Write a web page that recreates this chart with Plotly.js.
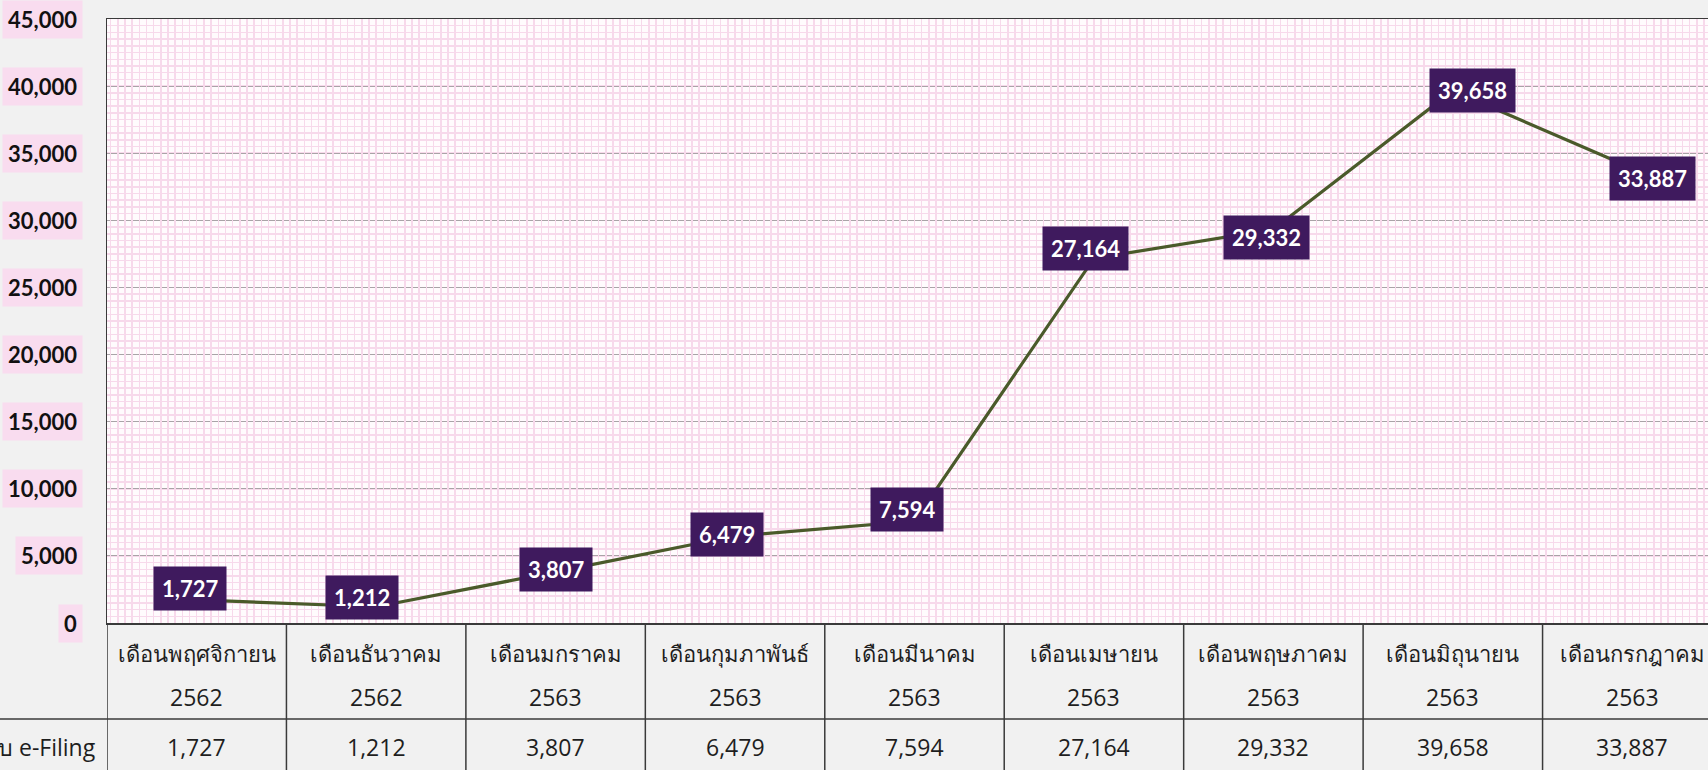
<!DOCTYPE html>
<html><head><meta charset="utf-8">
<script src="https://cdn.plot.ly/plotly-3.0.1.min.js"></script>
<style>html,body{margin:0;padding:0;background:#f1f1f1;overflow:hidden;width:1708px;height:770px}#chart{width:1722px;height:770px}</style>
</head><body><div id="chart"></div>
<script>
const months = ["เดือนพฤศจิกายน","เดือนธันวาคม","เดือนมกราคม","เดือนกุมภาพันธ์","เดือนมีนาคม","เดือนเมษายน","เดือนพฤษภาคม","เดือนมิถุนายน","เดือนกรกฎาคม"];
const years = ["2562","2562","2563","2563","2563","2563","2563","2563","2563"];
const values = [1727,1212,3807,6479,7594,27164,29332,39658,33887];
const seriesName = "จำนวนผู้ยื่นแบบ e-Filing";
const yTicks = [0,5000,10000,15000,20000,25000,30000,35000,40000,45000];
const labelShiftX = [-7,-14,0,-8,-8,-8,-7,20,20];
const labelShiftY = [11,9,2,2,12,10,-8,0,-10];

const cats = months.map((m,i)=>m+" "+years[i]);
const fmt = v => v.toLocaleString('en-US');
const W = 1722, H = 770, L = 107, T = 19, B = 147;
const plotH = H - T - B, plotW = W - L;
const py = px => (H - B - px) / plotH;   // pixel -> paper y

const thaiFont = "Tahoma, 'Leelawadee UI', 'Open Sans', 'Noto Sans', sans-serif";
const numFont = "Lato, Tahoma, 'DejaVu Sans', sans-serif";
const tableFont = {family:thaiFont, size:23, color:'#1e1e1e'};
const monthFont = {family:thaiFont, size:22, color:'#1e1e1e'};

const traces = [
  {x:[-0.5,8.5], y:[null,null], xaxis:'x2', yaxis:'y', mode:'lines', showlegend:false, hoverinfo:'skip'},
  {x:cats, y:values, type:'scatter', mode:'lines', name:seriesName,
   line:{color:'#4a5a2a', width:3.2}, showlegend:false}
];

const ann = [];
values.forEach((v,i)=>{
  ann.push({x:cats[i], y:v, xref:'x', yref:'y', text:fmt(v), showarrow:false,
    bgcolor:'#3f1a5e', borderpad:8, xshift:labelShiftX[i], yshift:labelShiftY[i],
    font:{family:numFont, size:22, color:'#ffffff', weight:'bold'}});
  ann.push({x:cats[i], y:py(653), xref:'x', yref:'paper', yanchor:'middle', text:months[i], showarrow:false, font:monthFont});
  ann.push({x:cats[i], y:py(697), xref:'x', yref:'paper', yanchor:'middle', text:years[i], showarrow:false, font:tableFont});
  ann.push({x:cats[i], y:py(747), xref:'x', yref:'paper', yanchor:'middle', text:fmt(v), showarrow:false, font:tableFont});
});
yTicks.forEach(t=>{
  ann.push({x:0, y:t, xref:'paper', yref:'y', xanchor:'right', yanchor:'middle', xshift:-24, text:fmt(t),
    showarrow:false, bgcolor:'#f9dcef', borderpad:5,
    font:{family:numFont, size:22, color:'#111111', weight:'bold'}});
});
ann.push({x:0, y:py(747), xref:'paper', yref:'paper', xanchor:'right', yanchor:'middle', xshift:-9, text:seriesName,
  showarrow:false, font:tableFont});

const shapes = [];
const lineStyle = {color:'#3a3a3a', width:1.5};
for (let i=0;i<=8;i++){
  shapes.push({type:'line', xref:'x', yref:'paper', x0:i-0.5, x1:i-0.5, y0:0, y1:py(H), line:lineStyle});
}
shapes.push({type:'line', xref:'paper', yref:'paper', x0:-L/plotW, x1:1, y0:py(719), y1:py(719), line:lineStyle});

const pinkGrid = '#f7d9eb';
const layout = {
  width:W, height:H,
  margin:{l:L, r:0, t:T, b:B},
  paper_bgcolor:'#f1f1f1', plot_bgcolor:'#fffbfd',
  showlegend:false,
  xaxis:{type:'category', range:[-0.5,8.5], showticklabels:false, ticks:'', showgrid:false,
         zeroline:false, showline:true, mirror:true, linecolor:'#3a3a3a', linewidth:1.5, fixedrange:true},
  xaxis2:{overlaying:'x', range:[-0.5,8.5], dtick:0.04, showgrid:true, gridcolor:pinkGrid,
          gridwidth:1.5, showticklabels:false, ticks:'', zeroline:false, showline:false},
  yaxis:{range:[0,45000], tickvals:yTicks, showticklabels:false, ticks:'',
         showgrid:true, gridcolor:'#a9a3a7', gridwidth:1, zeroline:false,
         showline:true, mirror:true, linecolor:'#3a3a3a', linewidth:1.5,
         minor:{dtick:500, showgrid:true, gridcolor:pinkGrid, gridwidth:1.5}},
  annotations:ann, shapes:shapes
};
Plotly.newPlot('chart', traces, layout, {displayModeBar:false, staticPlot:true});
</script></body></html>
